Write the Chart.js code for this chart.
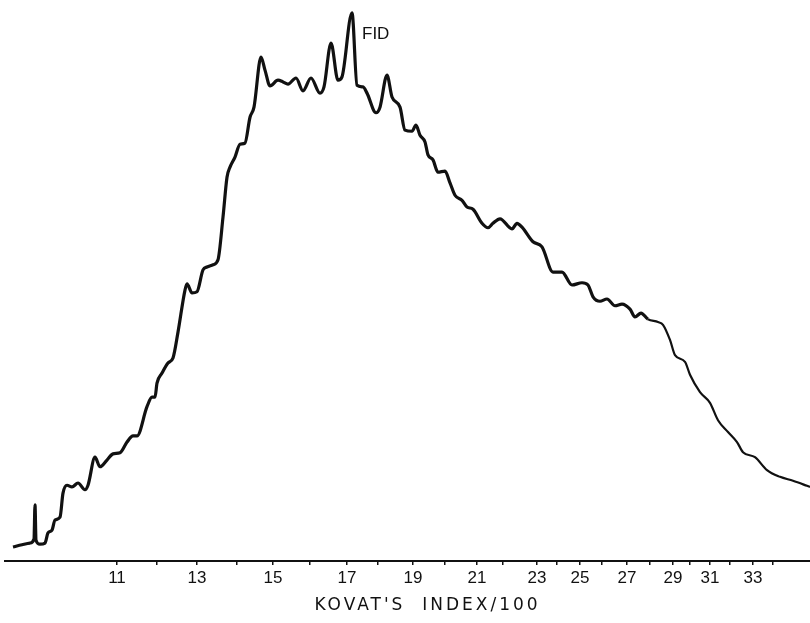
<!DOCTYPE html>
<html>
<head>
<meta charset="utf-8">
<script src="https://cdn.jsdelivr.net/npm/chart.js@4.4.0/dist/chart.umd.min.js"></script>
<style>
    html, body { margin: 0; padding: 0; background: #fff; }
    #Wrap { width: 810px; height: 623px; position: relative; }
</style>
</head>
<body>
<div id="Wrap"><canvas id="Chart"></canvas></div>
<script>
// retention position along the recorder trace (arbitrary units) and detector response
const retention = [
    0.8, 1.7, 2.5, 2.9, 3.0, 3.1, 3.5, 4.0, 4.3, 4.7, 5.0, 5.5, 5.8, 6.2, 6.7, 7.3, 8.0, 8.3, 9.0, 9.5,
    10.2, 10.8, 11.5, 12.2, 12.8, 13.2, 14.2, 14.7, 15.0, 15.2, 15.7, 16.3, 16.8, 17.3, 18.0, 18.2, 18.7, 19.2, 19.8, 20.2,
    20.8, 21.3, 21.8, 22.2, 22.5, 23.0, 23.5, 24.0, 24.5, 24.9, 25.6, 26.0, 26.5, 27.3, 27.8, 28.3, 29.1, 29.8, 30.6, 31.5,
    31.9, 32.6, 33.3, 33.7, 34.7, 35.2, 35.8, 36.2, 37.1, 37.5, 38.2, 38.7, 39.5, 40.0, 40.7, 41.1, 41.5, 42.0, 42.3, 42.8,
    43.3, 44.0, 44.5, 45.0, 45.7, 46.2, 46.8, 47.7, 48.3, 48.8, 49.5, 50.7, 51.2, 51.7, 52.8, 53.7, 54.8, 55.7, 56.7, 57.7,
    58.3, 58.8, 59.5, 60.2, 61.0, 61.7, 62.5, 63.0, 63.6, 64.3, 65.3, 65.8, 66.5, 67.0, 68.0, 68.5, 69.5, 70.5, 71.3, 72.3,
    73.2, 73.8, 75.0, 76.2, 77.5, 78.8, 80.2, 80.5
];
const signal = [
    2.5, 2.9, 3.2, 3.9, 10.0, 3.7, 3.0, 3.2, 5.0, 5.5, 7.3, 7.8, 12.1, 13.5, 13.2, 13.9, 12.7, 13.5, 18.5, 16.8,
    18.0, 19.1, 19.3, 21.2, 22.3, 22.3, 27.5, 29.2, 29.2, 31.7, 33.5, 35.3, 36.2, 40.8, 48.3, 49.4, 47.8, 48.0, 51.9, 52.4,
    52.8, 53.7, 61.3, 68.4, 70.2, 72.0, 74.3, 74.5, 79.1, 80.9, 89.8, 87.5, 84.7, 85.7, 85.4, 85.0, 86.1, 83.8, 86.1, 83.4,
    84.5, 92.3, 85.7, 86.3, 97.7, 84.8, 84.5, 83.4, 79.9, 80.9, 86.6, 82.7, 80.9, 76.8, 76.6, 77.7, 75.9, 74.7, 72.4, 71.5,
    69.3, 69.5, 67.4, 65.2, 64.3, 63.1, 62.7, 60.2, 59.4, 60.2, 61.0, 59.2, 60.2, 59.5, 56.9, 56.0, 51.5, 51.5, 49.2, 49.6,
    49.2, 47.1, 46.3, 46.7, 45.5, 45.8, 44.9, 43.5, 44.2, 43.1, 42.6, 42.1, 39.4, 36.7, 35.5, 33.2, 30.1, 28.2, 25.1, 23.0,
    21.2, 19.4, 18.5, 16.2, 15.0, 14.3, 13.4, 13.2
];

// Kovats index marks (only the odd ones are lettered) and where they sit on the trace
const kovatsIndex = [11, 12, 13, 14, 15, 16, 17, 18, 19, 20, 21, 22, 23, 24, 25, 26, 27, 28, 29, 30, 31, 32, 33, 34];
const kovatsPos = [11.2, 15.2, 19.2, 23.2, 26.8, 30.5, 34.2, 37.3, 40.8, 44.0, 47.2, 49.8, 53.2, 55.2, 57.5, 59.7, 62.2, 64.5, 66.8, 68.5, 70.5, 72.5, 74.8, 76.8];

const axisTitle = "KOVAT'S  INDEX/100";
const detector = 'FID';
const detectorAt = [35.7, 93.9];

const ink = '#111';
const letters = '"Liberation Sans", "DejaVu Sans", sans-serif';

// writes the detector name beside the tallest peak, and the hand-lettered axis caption (wide spacing)
const lettering = {
    id: 'lettering',
    afterDraw(chart) {
        const { ctx, scales, chartArea } = chart;
        ctx.save();
        ctx.font = '17px ' + letters;
        ctx.fillStyle = ink;
        ctx.textBaseline = 'middle';
        ctx.fillText(detector, scales.x.getPixelForValue(detectorAt[0]), scales.y.getPixelForValue(detectorAt[1]));

        ctx.font = '17px "DejaVu Sans", sans-serif';
        ctx.letterSpacing = '3px';
        ctx.textAlign = 'center';
        ctx.fillText(axisTitle, (chartArea.left + chartArea.right) / 2 + 20, scales.x.bottom - 17);
        ctx.restore();
    }
};

var ctx = document.getElementById('Chart').getContext('2d');
var chart = new Chart(ctx, {
    type: 'line',
    data: {
        datasets: [{
            label: detector,
            data: retention.map((r, i) => ({ x: r, y: signal[i] })),
            borderColor: ink,
            borderWidth: 3.2,
            pointRadius: 0,
            cubicInterpolationMode: 'monotone',
            segment: {
                borderWidth: (c) => c.p0.parsed.x > 64 ? 2.2 : 3.2
            }
        }]
    },
    options: {
        responsive: true,
        maintainAspectRatio: false,
        animation: false,
        layout: { padding: { left: 5, right: 0, top: 0, bottom: 0 } },
        plugins: {
            legend: { display: false },
            tooltip: { enabled: false }
        },
        scales: {
            x: {
                type: 'linear',
                min: 0,
                max: 80.5,
                border: { display: true, color: ink, width: 2 },
                grid: { drawOnChartArea: false, drawTicks: true, tickLength: 4, color: ink, lineWidth: 1.5 },
                afterBuildTicks: (scale) => {
                    scale.ticks = kovatsPos.map(v => ({ value: v }));
                },
                afterFit: (scale) => { scale.height = 62; },
                ticks: {
                    autoSkip: false,
                    maxRotation: 0,
                    padding: 3,
                    color: ink,
                    font: { family: letters, size: 17 },
                    callback: (value, index) => kovatsIndex[index] % 2 ? String(kovatsIndex[index]) : ''
                },
                title: { display: false }
            },
            y: {
                display: false,
                min: 0,
                max: 100
            }
        }
    },
    plugins: [lettering]
});
</script>
</body>
</html>
